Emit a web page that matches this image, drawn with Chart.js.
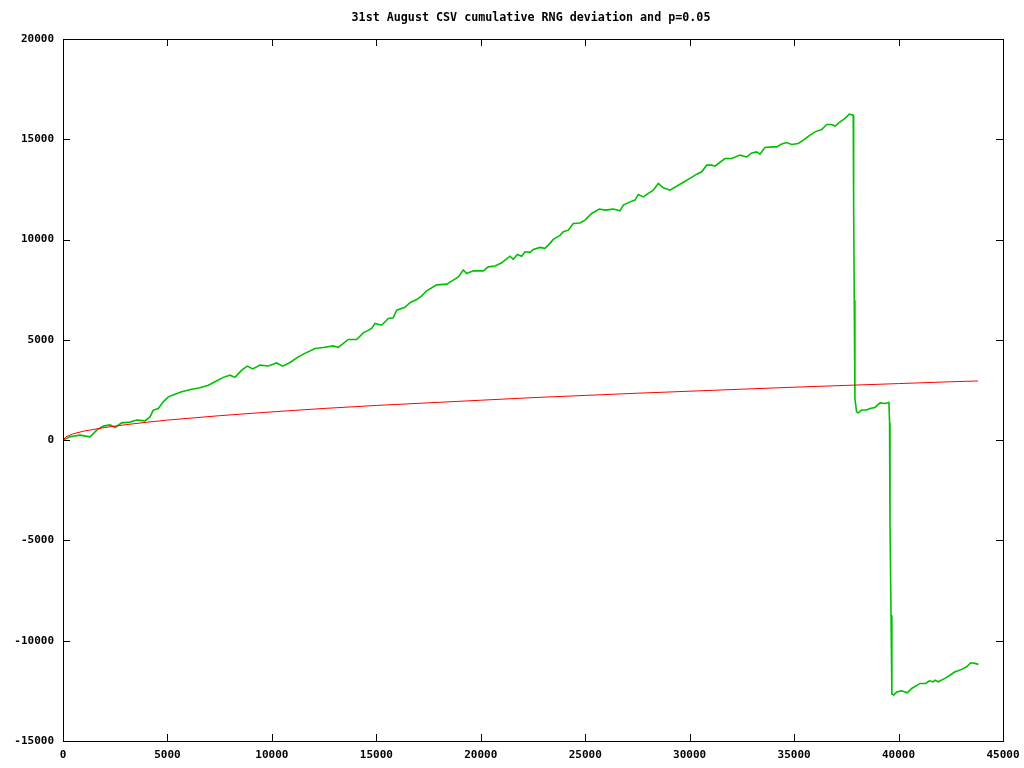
<!DOCTYPE html>
<html>
<head>
<meta charset="utf-8">
<script src="https://cdn.jsdelivr.net/npm/chart.js@4"></script>
<style>
  html, body { margin: 0; padding: 0; background: #fff; }
  #wrap { width: 1024px; height: 768px; }
</style>
</head>
<body>
<div id="wrap"><canvas id="rngChart" width="1024" height="768"></canvas></div>
<script>
// values
const greenX = [0, 335, 814, 1293, 1613, 1929, 2250, 2489, 2810, 3207, 3528, 3926, 4165, 4323, 4562, 4801, 5041, 5362, 5682, 6161, 6559, 6956, 7277, 7674, 7995, 8234, 8555, 8823, 9081, 9431, 9828, 10230, 10517, 10867, 11264,
  11504, 12063, 12461, 12940, 13179, 13658, 14060, 14376, 14778, 14936, 15257, 15573, 15812, 15975, 16372, 16611, 16932, 17172, 17411, 17890, 18368, 18684, 18924, 19163, 19326, 19642, 20121, 20360, 20681, 21001, 21159, 21399, 21557, 21749, 21959, 22117, 22356,
  22514, 22835, 23074, 23313, 23471, 23792, 23950, 24190, 24429, 24750, 24989, 25310, 25674, 25947, 26344, 26665, 26823, 27144, 27383, 27541, 27781, 28020, 28259, 28498, 28738, 29058, 29379, 29695, 30016, 30337, 30576, 30815, 31055, 31213, 31419,
  31691, 32012, 32409, 32730, 32969, 33208, 33366, 33606, 33926, 34166, 34405, 34644, 34884, 35200, 35440, 35760, 36000, 36320, 36560, 36800, 36960, 37200, 37440, 37640, 37830,
  37850, 37880, 37910, 37990, 38070, 38230, 38470, 38630, 38870, 39110, 39350, 39540,
  39570, 39590, 39640, 39680, 39770, 39910, 40150, 40420, 40630, 41030, 41310, 41470, 41660, 41740, 41900, 42220, 42460, 42700, 42860, 43020, 43260, 43450, 43660, 43820];
const greenY = [0, 165, 250, 165, 500, 700, 760, 630, 860, 900, 1000, 960, 1160, 1500, 1580, 1910, 2160, 2290, 2410, 2540, 2610, 2740, 2910, 3130, 3240, 3130, 3490, 3690, 3550, 3740, 3700, 3850, 3690, 3870, 4150,
  4290, 4570, 4620, 4700, 4620, 5020, 5020, 5350, 5570, 5820, 5730, 6070, 6100, 6480, 6620, 6850, 7010, 7190, 7440, 7740, 7780, 7980, 8140, 8480, 8310, 8440, 8440, 8640, 8680, 8840, 8970, 9170, 9020, 9260, 9170, 9390, 9360,
  9510, 9610, 9560, 9810, 10010, 10210, 10390, 10470, 10800, 10830, 10970, 11300, 11520, 11470, 11520, 11430, 11720, 11880, 11970, 12250, 12130, 12300, 12460, 12800, 12580, 12460, 12660, 12860, 13050, 13260, 13380, 13710, 13710, 13660, 13830,
  14040, 14040, 14210, 14120, 14320, 14370, 14260, 14590, 14620, 14620, 14760, 14840, 14740, 14790, 14960, 15210, 15370, 15490, 15740, 15740, 15660, 15870, 16040, 16250, 16200,
  11720, 6980, 2090, 1410, 1360, 1500, 1500, 1580, 1630, 1860, 1830, 1880,
  850, -3990, -8730, -12660, -12710, -12550, -12500, -12600, -12380, -12130, -12130, -12000, -12050, -11970, -12050, -11880, -11720, -11550, -11500, -11430, -11300, -11100, -11130, -11180];

const redX = [0, 150, 500, 1000, 2000, 3000, 4000, 5000, 7500, 10000, 12500, 15000, 17500, 20000, 22500, 25000, 27500, 30000, 32500, 35000, 37500, 40000, 42500, 43800];
const redY = [0, 170, 320, 450, 630, 770, 890, 1000, 1220, 1410, 1580, 1730, 1860, 1990, 2120, 2230, 2340, 2440, 2540, 2640, 2730, 2820, 2910, 2950];

const xTicks = [0, 5000, 10000, 15000, 20000, 25000, 30000, 35000, 40000, 45000];
const yTicks = [-15000, -10000, -5000, 0, 5000, 10000, 15000, 20000];

const chartTitle = '31st August CSV cumulative RNG deviation and p=0.05';

function toPoints(xs, ys) {
    return xs.map(function(x, i) { return { x: x, y: ys[i] }; });
}

// gnuplot style frame with inward ticks on all four sides, plus the title
const frameTicks = {
    id: 'frameTicks',
    afterDraw: function(chart) {
        const ctx = chart.ctx;
        const a = chart.chartArea;
        const xs = chart.scales.x;
        const ys = chart.scales.y;
        const len = 7;
        ctx.save();
        ctx.strokeStyle = '#000';
        ctx.lineWidth = 1;
        ctx.beginPath();
        xTicks.forEach(function(v) {
            const px = Math.round(xs.getPixelForValue(v)) + 0.5;
            ctx.moveTo(px, a.bottom); ctx.lineTo(px, a.bottom - len);
            ctx.moveTo(px, a.top); ctx.lineTo(px, a.top + len);
        });
        yTicks.forEach(function(v) {
            const py = Math.round(ys.getPixelForValue(v)) + 0.5;
            ctx.moveTo(a.left, py); ctx.lineTo(a.left + len, py);
            ctx.moveTo(a.right, py); ctx.lineTo(a.right - len, py);
        });
        ctx.stroke();
        ctx.strokeRect(Math.round(a.left) + 0.5, Math.round(a.top) + 0.5,
            Math.round(a.right - a.left), Math.round(a.bottom - a.top));

        ctx.fillStyle = '#000';
        ctx.font = 'bold 11.7px "DejaVu Sans Mono"';
        ctx.textAlign = 'center';
        ctx.textBaseline = 'middle';
        ctx.fillText(chartTitle, 531, 18);
        ctx.restore();
    }
};

const ctx = document.getElementById('rngChart').getContext('2d');
new Chart(ctx, {
    type: 'line',
    data: {
        datasets: [{
            label: 'p=0.05',
            data: toPoints(redX, redY),
            borderColor: '#ff0000',
            borderWidth: 1,
            pointRadius: 0,
            tension: 0
        }, {
            label: 'cumulative deviation',
            data: toPoints(greenX, greenY),
            borderColor: '#00c000',
            borderWidth: 1.6,
            pointRadius: 0,
            tension: 0
        }]
    },
    options: {
        responsive: false,
        animation: false,
        layout: {
            padding: { left: 0, right: 21, top: 39, bottom: 0 }
        },
        scales: {
            x: {
                type: 'linear',
                min: 0,
                max: 45000,
                afterFit: function(s) { s.height = 27; s.paddingLeft = 0; s.paddingRight = 0; },
                afterBuildTicks: function(s) { s.ticks = xTicks.map(function(v) { return { value: v }; }); },
                grid: { display: false, drawTicks: false },
                border: { display: false },
                ticks: {
                    padding: 8,
                    maxRotation: 0,
                    color: '#000',
                    font: { family: 'DejaVu Sans Mono', size: 11, weight: 'bold' },
                    callback: function(v) { return String(v); }
                }
            },
            y: {
                type: 'linear',
                min: -15000,
                max: 20000,
                afterFit: function(s) { s.width = 63; s.paddingTop = 0; s.paddingBottom = 0; },
                afterBuildTicks: function(s) { s.ticks = yTicks.map(function(v) { return { value: v }; }); },
                grid: { display: false, drawTicks: false },
                border: { display: false },
                ticks: {
                    padding: 9,
                    color: '#000',
                    font: { family: 'DejaVu Sans Mono', size: 11, weight: 'bold' },
                    callback: function(v) { return String(v); }
                }
            }
        },
        plugins: {
            legend: { display: false },
            tooltip: { enabled: false },
            title: { display: false }
        }
    },
    plugins: [frameTicks]
});
</script>
</body>
</html>
